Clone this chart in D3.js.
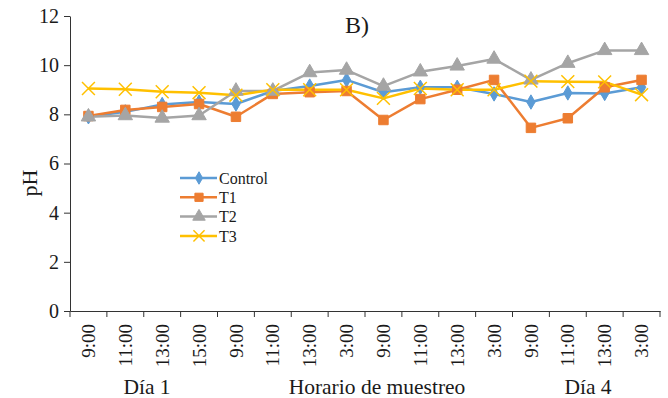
<!DOCTYPE html>
<html><head><meta charset="utf-8">
<script src="https://cdn.jsdelivr.net/npm/d3@7/dist/d3.min.js"></script>
<style>body{margin:0;background:#fff}svg{display:block}text{font-family:"Liberation Serif","Times New Roman",serif;fill:#1a1a1a}</style>
</head><body><svg id="c" width="668" height="398"></svg>
<script>
const categories = ["9:00","11:00","13:00","15:00","9:00","11:00","13:00","3:00","9:00","11:00","13:00","3:00","9:00","11:00","13:00","3:00"];
const control = [7.9,8.1,8.4,8.5,8.42,8.95,9.15,9.4,8.9,9.1,9.1,8.83,8.5,8.87,8.85,9.1];
const t1 = [7.93,8.18,8.3,8.42,7.9,8.83,8.9,8.95,7.77,8.62,9.0,9.4,7.45,7.84,9.1,9.4];
const t2 = [7.9,7.95,7.85,7.95,8.95,8.95,9.7,9.8,9.15,9.73,9.97,10.25,9.4,10.08,10.6,10.6];
const t3 = [9.05,9.02,8.92,8.88,8.78,9.0,9.0,9.0,8.65,9.05,9.0,9.0,9.35,9.33,9.32,8.8];
const seriesNames = ["Control","T1","T2","T3"];
const yTicks = [0,2,4,6,8,10,12];
const groupLabels = ["Día 1","Horario de muestreo","Día 4"];

const colors = ["#5B9BD5","#ED7D31","#A5A5A5","#FFC000"];
const symbols = [d3.symbolDiamond, d3.symbolSquare, d3.symbolTriangle, d3.symbolX];
const symSize = [60, 90, 90, 110];
const allSeries = [control,t1,t2,t3];

const svg = d3.select("#c");
const L=70, R=660, T=16, B=311;
const x = d3.scaleBand().domain(d3.range(categories.length)).range([L,R]);
const y = d3.scaleLinear().domain([0,12]).range([B,T]);

// y axis
const ya = svg.append("g").attr("transform",`translate(${L},0)`)
  .call(d3.axisLeft(y).tickValues(yTicks).tickSize(6).tickSizeOuter(0).tickPadding(5));
ya.selectAll("text").style("font-size","20px").attr("fill","#1a1a1a");
ya.selectAll("line,path").attr("stroke","#333");

// x axis
const xa = svg.append("g").attr("transform",`translate(0,${B})`)
  .call(d3.axisBottom(x).tickFormat(i=>categories[i]).tickSize(0).tickSizeOuter(0));
xa.select("path").attr("stroke","#333");
xa.selectAll(".tick text").attr("transform","rotate(-90)").attr("x",-13).attr("y",0)
  .attr("dy","0.35em").attr("text-anchor","end").style("font-size","19px").attr("fill","#1a1a1a");
// boundary ticks
const bounds = d3.range(categories.length+1).map(i=> i<categories.length ? x(i) : R);
svg.append("g").selectAll("line").data(bounds).join("line")
  .attr("x1",d=>d).attr("x2",d=>d).attr("y1",B).attr("y2",B+6).attr("stroke","#333");

// lines
const line = d3.line().x((d,i)=>x(i)+x.bandwidth()/2).y(d=>y(d));
allSeries.forEach((s,k)=>{
  svg.append("path").datum(s).attr("d",line).attr("fill","none")
    .attr("stroke",colors[k]).attr("stroke-width",2.5).attr("stroke-linejoin","round");
});
allSeries.forEach((s,k)=>{
  const sym = d3.symbol().type(symbols[k]).size(symSize[k]);
  svg.append("g").selectAll("path").data(s).join("path")
    .attr("d",sym)
    .attr("transform",(d,i)=>`translate(${x(i)+x.bandwidth()/2},${y(d)})`)
    .attr("fill",k===3?"none":colors[k])
    .attr("stroke",colors[k]).attr("stroke-width",k===3?1.5:1);
});

// legend
const lg = svg.append("g");
seriesNames.forEach((n,k)=>{
  const yy = 178 + k*19.3;
  lg.append("line").attr("x1",180).attr("x2",217).attr("y1",yy).attr("y2",yy)
    .attr("stroke",colors[k]).attr("stroke-width",2.5);
  lg.append("path").attr("d",d3.symbol().type(symbols[k]).size(symSize[k]*0.75)())
    .attr("transform",`translate(199,${yy})`)
    .attr("fill",k===3?"none":colors[k]).attr("stroke",colors[k]).attr("stroke-width",k===3?1.5:1);
  lg.append("text").attr("x",219).attr("y",yy).attr("dy","0.35em").style("font-size","16px").text(n);
});

// title
svg.append("text").attr("x",357).attr("y",33).attr("text-anchor","middle").style("font-size","24px").text("B)");
// y label
svg.append("text").attr("transform","translate(37,183) rotate(-90)").attr("text-anchor","middle").style("font-size","22px").text("pH");
// bottom labels
[147,377,588].forEach((cx,i)=>{
  svg.append("text").attr("x",cx).attr("y",394).attr("text-anchor","middle").style("font-size","21.5px").text(groupLabels[i]);
});
</script></body></html>
